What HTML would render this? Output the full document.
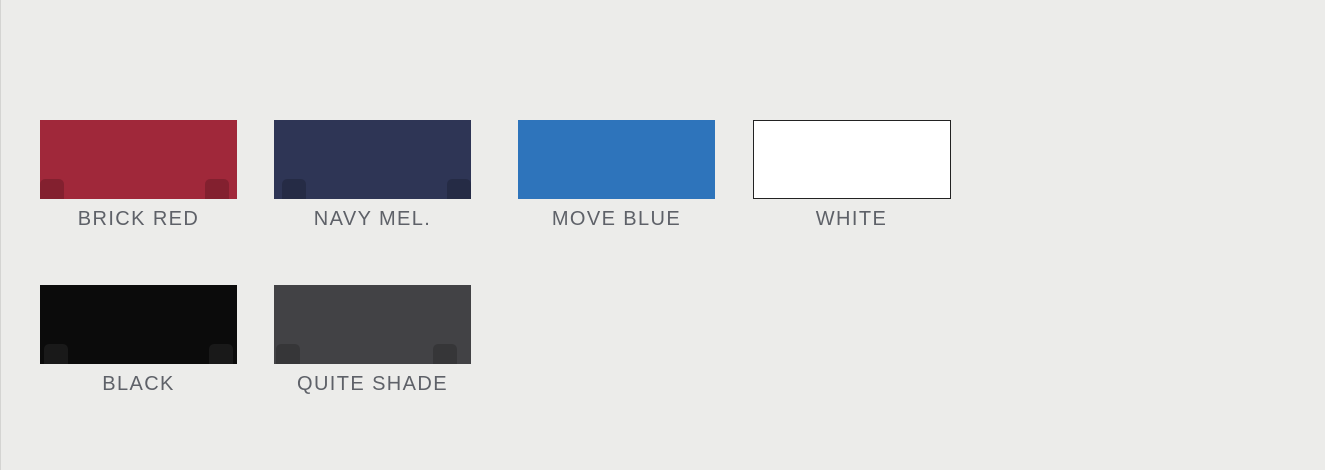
<!DOCTYPE html>
<html><head><meta charset="utf-8"><style>
html,body{margin:0;padding:0}
body{width:1325px;height:470px;background:#ececea;position:relative;overflow:hidden;font-family:"Liberation Sans",sans-serif}
.edge{position:absolute;left:0;top:0;width:1px;height:470px;background:#d4d4d2}
.sw{position:absolute;width:197px;height:79px;box-sizing:border-box;overflow:hidden}
.lbl{position:absolute;width:197px;text-align:center;font-size:20px;color:#5e6168;letter-spacing:1.4px;line-height:22px}
.corner{position:absolute;bottom:0;width:24px;height:20px;border-radius:5px 5px 0 0;background:rgba(0,0,0,0.18)}
</style></head><body>
<div class="edge"></div>

<div class="sw" style="left:40px;top:120px;background:#a0283a"><div class="corner" style="left:0"></div><div class="corner" style="right:8px"></div></div>
<div class="lbl" style="left:40px;top:208px">BRICK RED</div>

<div class="sw" style="left:274px;top:120px;background:#2e3555"><div class="corner" style="left:8px"></div><div class="corner" style="right:0"></div></div>
<div class="lbl" style="left:274px;top:208px">NAVY MEL.</div>

<div class="sw" style="left:518px;top:120px;background:#2e74bb"></div>
<div class="lbl" style="left:518px;top:208px">MOVE BLUE</div>

<div class="sw" style="left:753px;top:120px;width:198px;background:#ffffff;border:1px solid #222"></div>
<div class="lbl" style="left:753px;top:208px">WHITE</div>

<div class="sw" style="left:40px;top:285px;background:#0b0b0b"><div class="corner" style="left:4px;background:rgba(255,255,255,0.06)"></div><div class="corner" style="right:4px;background:rgba(255,255,255,0.06)"></div></div>
<div class="lbl" style="left:40px;top:373px">BLACK</div>

<div class="sw" style="left:274px;top:285px;background:#424245"><div class="corner" style="left:2px"></div><div class="corner" style="right:14px"></div></div>
<div class="lbl" style="left:274px;top:373px">QUITE SHADE</div>
</body></html>
